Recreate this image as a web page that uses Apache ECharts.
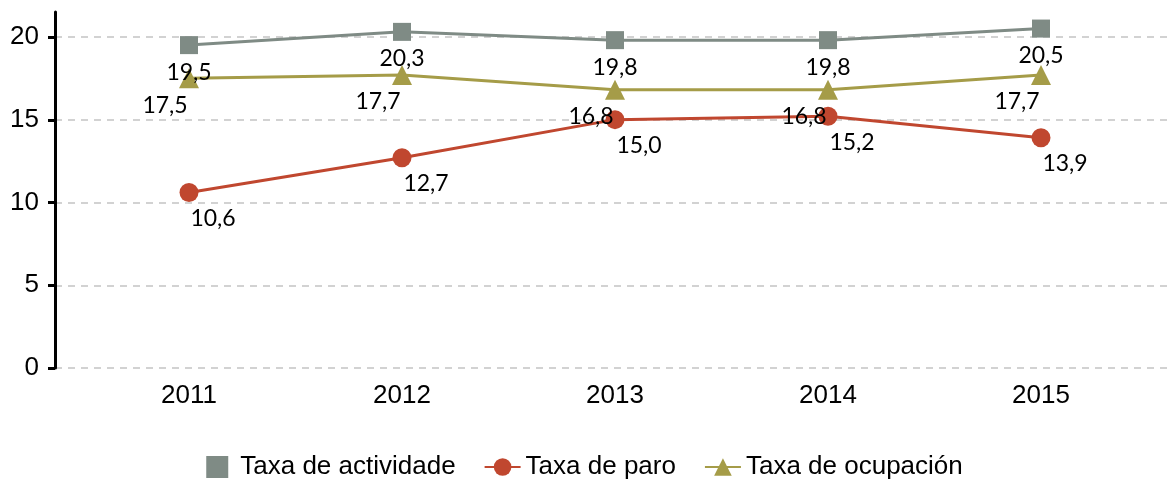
<!DOCTYPE html>
<html>
<head>
<meta charset="utf-8">
<script src="https://cdn.jsdelivr.net/npm/echarts@6/dist/echarts.min.js"></script>
<style>
  html, body { margin: 0; padding: 0; background: #fff; }
  #chart { width: 1169px; height: 479px; }
</style>
</head>
<body>
<div id="chart"></div>
<script>
// Years on the horizontal axis
const years = ['2011', '2012', '2013', '2014', '2015'];
// Rates (%) per year
const actividade = [19.5, 20.3, 19.8, 19.8, 20.5];
const paro = [10.6, 12.7, 15.0, 15.2, 13.9];
const ocupacion = [17.5, 17.7, 16.8, 16.8, 17.7];
// Series names
const names = ['Taxa de actividade', 'Taxa de paro', 'Taxa de ocupación'];

const colors = ['#7f8b85', '#c0472f', '#a59c48'];
const fmt = p => p.value.toFixed(1).replace('.', ',');
const labelFont = { fontFamily: 'Lato', fontSize: 23, color: '#000' };

const chart = echarts.init(document.getElementById('chart'), null, { renderer: 'canvas' });
chart.setOption({
  animation: false,
  backgroundColor: '#fff',
  grid: [
    // grid holding the dashed gridlines and tick labels
    { left: 55, right: 0, top: 37, bottom: 111 },
    // grid holding the lines
    { left: 82.5, right: 21.5, top: 12, bottom: 111 }
  ],
  xAxis: [
    { gridIndex: 0, type: 'category', data: years, show: false },
    {
      gridIndex: 1, type: 'category', data: years, boundaryGap: true,
      axisLine: { show: false }, axisTick: { show: false },
      axisLabel: { fontFamily: 'Liberation Sans', fontSize: 26, color: '#000', margin: 15 }
    }
  ],
  yAxis: [
    {
      gridIndex: 0, type: 'value', min: 0, max: 20, interval: 5,
      axisLine: { show: false },
      axisTick: { show: true, length: 7, lineStyle: { color: '#000', width: 3 } },
      axisLabel: { fontFamily: 'Liberation Sans', fontSize: 26, color: '#000', margin: 16 },
      splitLine: { show: true, lineStyle: { color: '#c4c4c4', width: 1.5, type: [7, 6] } }
    },
    {
      gridIndex: 1, type: 'value', min: 0, max: 21.5, offset: 27.5,
      axisLine: { show: true, lineStyle: { color: '#000', width: 3 } },
      axisTick: { show: false }, axisLabel: { show: false }, splitLine: { show: false }
    }
  ],
  legend: {
    left: 'center', top: 449,
    itemWidth: 36, itemHeight: 22, itemGap: 28,
    textStyle: { fontFamily: 'Liberation Sans', fontSize: 26, color: '#000' },
    data: [
      { name: names[0], icon: 'path://M0,0h10v10h-10z' },
      { name: names[1] },
      { name: names[2] }
    ]
  },
  series: [
    {
      name: names[0], type: 'line', xAxisIndex: 1, yAxisIndex: 1,
      data: actividade, symbol: 'rect', symbolSize: 18,
      lineStyle: { color: colors[0], width: 3 }, itemStyle: { color: colors[0] },
      label: { show: true, position: 'inside', offset: [0, 27], formatter: fmt, ...labelFont }
    },
    {
      name: names[1], type: 'line', xAxisIndex: 1, yAxisIndex: 1,
      data: paro, symbol: 'circle', symbolSize: 19,
      lineStyle: { color: colors[1], width: 3 }, itemStyle: { color: colors[1] },
      label: { show: true, position: 'inside', offset: [24, 26], formatter: fmt, ...labelFont }
    },
    {
      name: names[2], type: 'line', xAxisIndex: 1, yAxisIndex: 1,
      data: ocupacion, symbol: 'triangle', symbolSize: 20,
      lineStyle: { color: colors[2], width: 3 }, itemStyle: { color: colors[2] },
      label: { show: true, position: 'inside', offset: [-24, 27], formatter: fmt, ...labelFont }
    }
  ]
});
</script>
</body>
</html>
